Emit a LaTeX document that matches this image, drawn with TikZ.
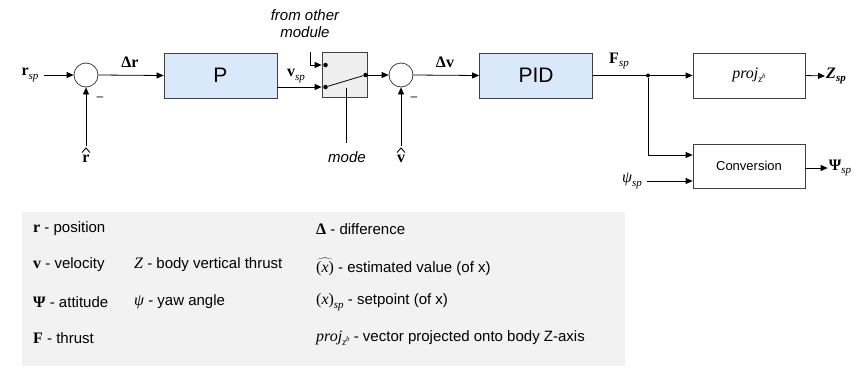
\documentclass[tikz,border=0pt]{standalone}
\usepackage{fontspec}
\setmainfont{Liberation Sans}
\newfontfamily\tms{Liberation Serif}
\usetikzlibrary{arrows.meta}
\definecolor{blkblue}{HTML}{DAE8FC}
\definecolor{swgray}{HTML}{EEEEEE}
\definecolor{leggray}{HTML}{F2F2F2}
\newcommand\spx{\raisebox{-0.45ex}{\tms\itshape\fontsize{11}{11}\selectfont sp}}
\newcommand\lbsz{\fontsize{16}{18}\selectfont}
\newcommand\lgsz{\fontsize{15}{18}\selectfont}
\newcommand\projz{\tms\itshape\lbsz proj\raisebox{-0.5ex}{\fontsize{10}{10}\selectfont z\raisebox{0.9ex}{\fontsize{7}{7}\selectfont b}}}
\begin{document}
\begin{tikzpicture}[x=1pt,y=-1pt,
  blk/.style={draw=black!75, line width=0.8pt, fill=blkblue, minimum width=113pt, minimum height=45pt, inner sep=0pt, font=\fontsize{21}{24}\selectfont},
  wbox/.style={draw=black!75, line width=0.8pt, fill=white, minimum width=112pt, minimum height=45pt, inner sep=0pt},
  swbox/.style={draw=black!75, line width=0.8pt, fill=swgray, minimum width=45pt, minimum height=45pt, inner sep=0pt},
  sumc/.style={circle, draw=black!75, line width=0.8pt, minimum size=24pt, inner sep=0pt},
  conn/.style={-{Triangle[length=7pt,width=6pt]}, line width=0.8pt},
  wire/.style={line width=0.8pt},
  hatline/.style={line width=0.9pt, line join=miter},
  lbl/.style={inner sep=1pt, font=\tms\lbsz},
  dotc/.style={circle, fill=black, inner sep=0pt, minimum size=4.5pt},
  itx/.style={font=\itshape\fontsize{15}{17}\selectfont, align=center, inner sep=0pt},
  leg/.style={anchor=west, inner sep=0pt, font=\lgsz}
]
\useasboundingbox (0,0) rectangle (859,367);

% legend background
\node[fill=leggray, minimum width=603pt, minimum height=154pt, anchor=north west, inner sep=0pt] (legbox) at (22,212) {};

% --- position loop
\node[lbl] (rsp) at (30,75) {\textbf{r}\spx};
\node[sumc] (s1) at (86,75) {};
\node[lbl] (rhat) at (86,159) {\bfseries r};
\coordinate (rh) at (86,146);
\draw[hatline] (82,152.5) -- (86,148) -- (90,152.5);
\node[font=\fontsize{12}{12}\selectfont] (m1) at (100,99) {--};
\node[blk] (P) at (220.5,75.5) {P};
\node[lbl] (dr) at (130,62) {\textbf{Δr}};
\draw[conn] (rsp.east) ++(4,0) -- (s1.west);
\draw[conn] (rh) -- (s1.south);
\draw[conn] (s1.east) -- (P.west);

% --- switch
\node[swbox] (sw) at (344.5,74.5) {};
\node[itx] (fom) at (305,24) {from other\\module};
\coordinate (fotop) at (310,52);
\node[dotc] (d1) at (325.5,65) {};
\node[dotc] (d2) at (325.5,87) {};
\node[dotc] (d3) at (365.5,75) {};
\node[lbl] (vsp) at (296,76) {\textbf{v}\spx};
\draw[conn] (P.east |- d2) -- (sw.west |- d2);
\draw[conn] (fotop) |- (sw.west |- d1);
\draw[wire] (d2) -- (d3);
\coordinate (modetop) at (346,88);
\node[itx] (mode) at (347,157) {mode};
\draw[wire] (modetop) -- (346,143);

% --- velocity loop
\node[sumc] (s2) at (401,75) {};
\node[lbl] (vhat) at (401,159) {\bfseries v};
\coordinate (vh) at (401,146);
\draw[hatline] (397,152.5) -- (401,148) -- (405,152.5);
\node[font=\fontsize{12}{12}\selectfont] (m2) at (414,99) {--};
\node[blk] (PID) at (536,75.5) {PID};
\node[lbl] (dv) at (445,62) {\textbf{Δv}};
\draw[conn] (sw.east |- d3) -- (s2.west);
\draw[conn] (vh) -- (s2.south);
\draw[conn] (s2.east) -- (PID.west);

% --- outputs
\node[lbl] (Fsp) at (619,61) {\textbf{F}\spx};
\node[dotc, minimum size=4pt] (fd) at (648,75.5) {};
\node[wbox] (proj) at (749,75.5) {\projz};
\node[wbox, minimum height=44pt] (conv) at (749,166) {\fontsize{13}{15}\selectfont Conversion};
\node[lbl] (Zsp) at (836,76) {\bfseries\itshape Z\spx};
\node[lbl] (Psisp) at (840,168) {\textbf{Ψ}\spx};
\node[lbl] (psisp) at (632,181) {\itshape ψ\spx};
\draw[wire] (PID.east) -- (fd);
\draw[conn] (fd) -- (proj.west);
\draw[conn] (fd) |- (conv.west |- 0,155);
\draw[conn] (psisp.east) ++(4,0) -- (conv.west |- 0,181);
\draw[conn] (proj.east) -- (Zsp.west);
\draw[conn] (conv.east |- Psisp) -- (Psisp.west);

% --- legend
\node[leg] (l1) at (33,229) {{\tms\bfseries\lbsz r} - position};
\node[leg] (l2) at (33,265) {{\tms\bfseries\lbsz v} - velocity};
\node[leg] (l3) at (33,302) {{\tms\bfseries\lbsz Ψ} - attitude};
\node[leg] (l4) at (33,338) {{\tms\bfseries\lbsz F} - thrust};
\node[leg] (l5) at (134,265) {{\tms\itshape\lbsz Z} - body vertical thrust};
\node[leg] (l6) at (134,302) {{\tms\itshape\lbsz ψ} - yaw angle};
\node[leg] (l7) at (316,229) {{\tms\bfseries\lbsz Δ} - difference};
\node[leg] (l8) at (316,267) {$\widehat{\hbox{\tms\lbsz(\textit{x})}}$ - estimated value (of x)};
\node[leg] (l9) at (316,302) {{\tms\lbsz(\textit{x})\spx} - setpoint (of x)};
\node[leg] (l10) at (316,338) {{\projz} - vector projected onto body Z-axis};
\end{tikzpicture}
\end{document}
